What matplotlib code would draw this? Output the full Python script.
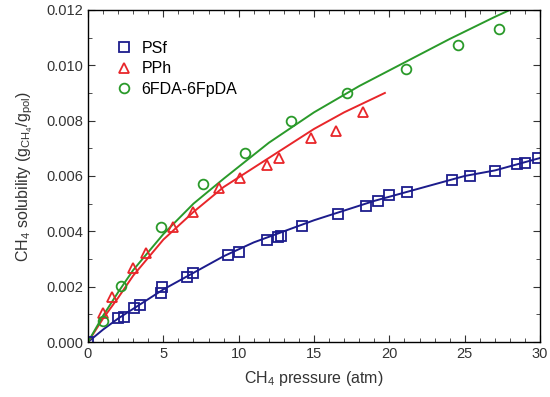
import matplotlib
matplotlib.use("Agg")
import matplotlib.pyplot as plt
from matplotlib.ticker import MultipleLocator, FormatStrFormatter

plt.rcParams['font.family'] = ['Liberation Sans', 'DejaVu Sans']
plt.rcParams['mathtext.default'] = 'regular'

# measured points
psf_p = [0, 2.0, 2.4, 3.05, 3.45, 4.84, 4.9, 6.57, 6.97, 9.3, 10.0, 11.9, 12.6,
         12.8, 14.2, 16.6, 18.45, 19.25, 20.0, 21.2, 24.15, 25.35, 27.0, 28.5, 29.0, 29.86]
psf_s = [0, 0.00087, 0.0009, 0.00123, 0.00134, 0.00177, 0.00199, 0.00235, 0.0025, 0.00314,
         0.00325, 0.00369, 0.0038, 0.00383, 0.00419, 0.00463, 0.00491, 0.0051, 0.00531,
         0.00542, 0.00585, 0.006, 0.00618, 0.00643, 0.00647, 0.00665]

pph_p = [1.0, 1.6, 3.0, 3.85, 5.64, 6.97, 8.7, 10.1, 11.9, 12.7, 14.8, 16.45, 18.25]
pph_s = [0.00105, 0.00163, 0.00267, 0.00322, 0.00416, 0.0047, 0.00557, 0.00593,
         0.0064, 0.00665, 0.00737, 0.00763, 0.00831]

fda_p = [1.0, 2.2, 4.84, 7.63, 10.4, 13.47, 17.2, 21.1, 24.55, 27.3]
fda_s = [0.00076, 0.00202, 0.00416, 0.00571, 0.00683, 0.00799, 0.009, 0.00987, 0.01073, 0.01131]

# fitted curves
psf_fit_p = [0, 1, 2, 3, 4, 5, 7, 9, 11, 13, 15, 17, 19, 21, 23, 25, 27, 30]
psf_fit_s = [0, 0.00045, 0.00085, 0.0012, 0.00155, 0.0019, 0.0025, 0.0031, 0.0036, 0.0040,
             0.0044, 0.00475, 0.0051, 0.0054, 0.0057, 0.0060, 0.0062, 0.00665]

pph_fit_p = [0, 1, 2, 3, 5, 7, 9, 11, 13, 15, 17, 19.7]
pph_fit_s = [0, 0.00085, 0.0016, 0.0024, 0.0037, 0.0047, 0.0056, 0.0063, 0.0070, 0.0077,
             0.0083, 0.0090]

fda_fit_p = [0, 1, 2, 3, 5, 7, 9, 12, 15, 18, 21, 24, 27, 28]
fda_fit_s = [0, 0.00095, 0.0018, 0.0026, 0.0039, 0.0050, 0.0059, 0.0072, 0.0083, 0.00925,
             0.0101, 0.01095, 0.01175, 0.0120]

blue = '#1c1c8c'
red = '#e8262a'
green = '#2a9a2a'

fig = plt.figure(figsize=(5.5, 3.97), dpi=100)
ax = fig.add_axes([0.16, 0.1385, 0.822, 0.8365])

ax.plot(psf_fit_p, psf_fit_s, color=blue, lw=1.4)
ax.plot(pph_fit_p, pph_fit_s, color=red, lw=1.4)
ax.plot(fda_fit_p, fda_fit_s, color=green, lw=1.4)

mk = dict(ls='none', markerfacecolor='none', markersize=7, markeredgewidth=1.3)
ax.plot(psf_p, psf_s, marker='s', color=blue, label='PSf', **mk)
ax.plot(pph_p, pph_s, marker='^', color=red, label='PPh', **mk)
ax.plot(fda_p, fda_s, marker='o', color=green, label='6FDA-6FpDA', **mk)

ax.set_xlim(0, 30)
ax.set_ylim(0, 0.012)
ax.xaxis.set_major_locator(MultipleLocator(5))
ax.xaxis.set_minor_locator(MultipleLocator(1))
ax.yaxis.set_major_locator(MultipleLocator(0.002))
ax.yaxis.set_minor_locator(MultipleLocator(0.001))
ax.yaxis.set_major_formatter(FormatStrFormatter('%.3f'))
ax.tick_params(which='both', direction='in', top=True, right=True, labelsize=10.5,
               colors='#333333')
ax.tick_params(which='major', length=5)
ax.tick_params(which='minor', length=3)
for s in ax.spines.values():
    s.set_linewidth(1.0)

ax.set_xlabel('CH$_4$ pressure (atm)', fontsize=11.5, color='#333333', labelpad=6)
ax.set_ylabel('CH$_4$ solubility (g$_{CH_4}$/g$_{pol}$)', fontsize=11.5, color='#333333',
              labelpad=8)

ax.legend(loc='upper left', frameon=False, fontsize=11.5, bbox_to_anchor=(0.03, 0.95),
          handletextpad=0.6, labelspacing=0.35, handlelength=1.0)

fig.savefig('out.png', dpi=100)
